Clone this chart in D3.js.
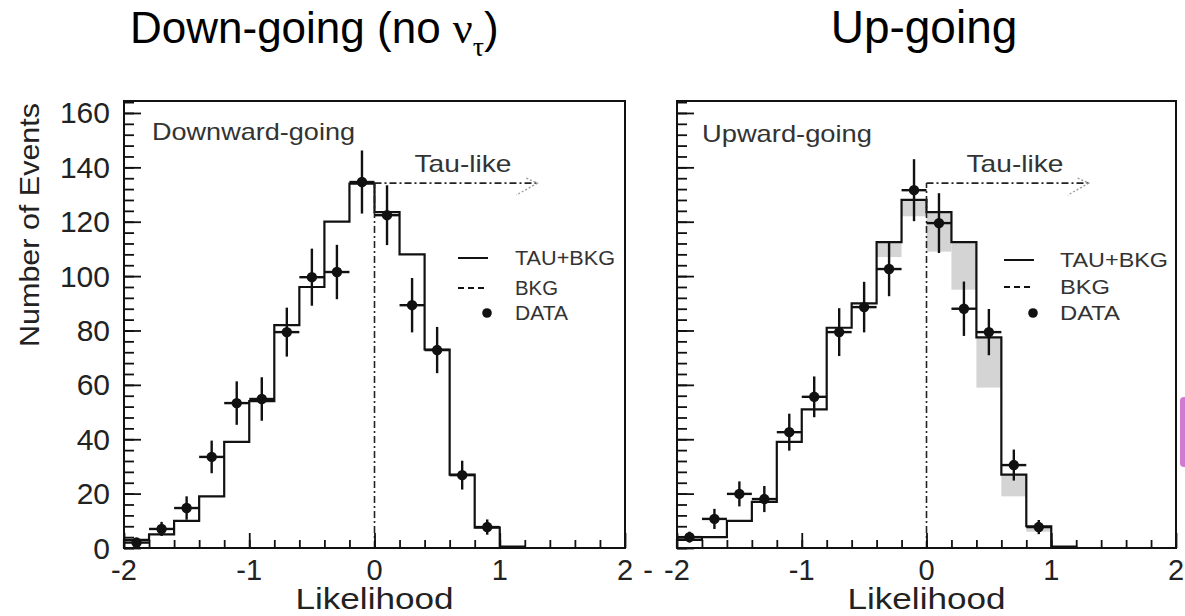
<!DOCTYPE html>
<html><head><meta charset="utf-8">
<script src="https://cdn.jsdelivr.net/npm/d3@7"></script>
<style>body{margin:0;background:#fff}svg{display:block}</style>
</head><body>
<svg id="chart" width="1185" height="616"></svg>
<script>
// Likelihood bins (lower edges), width 0.2
const binLow = [-2.0, -1.8, -1.6, -1.4, -1.2, -1.0, -0.8, -0.6, -0.4, -0.2, 0.0, 0.2, 0.4, 0.6, 0.8, 1.0];
const binWidth = 0.2;
// Data points sit at bin centres
const pointX = [-1.9, -1.7, -1.5, -1.3, -1.1, -0.9, -0.7, -0.5, -0.3, -0.1, 0.1, 0.3, 0.5, 0.7, 0.9];

// Downward-going sample (no tau expected)
const downTotal = [3, 5, 10, 19, 39, 54, 82, 96, 120, 134, 123.5, 108, 73, 27, 7.5, 0.5];
const downBkg   = [3, 5, 10, 19, 39, 54, 82, 96, 120, 134, 123.5, 108, 73, 27, 7.5, 0.5];
const downData  = [2, 7, 14.7, 33.5, 53.3, 54.8, 79.4, 99.6, 101.5, 134.6, 122.4, 89.3, 72.8, 26.8, 7.7];
const downErr   = [1.5, 2.6, 4.3, 6, 8, 8, 9, 10.5, 10, 11.6, 11, 10, 8.5, 5.3, 2.8];

// Upward-going sample
const upTotal = [3, 4, 10, 17, 39, 51, 81, 90, 112.5, 128, 123.5, 112.5, 77.5, 27, 8, 0.5];
const upBkg   = [3, 4, 10, 17, 39, 51, 81, 90, 107, 122, 109, 95, 59, 19, 6, 0.5];
const upData  = [4, 10.7, 19.9, 18, 42.6, 55.6, 79.4, 88.6, 102.6, 131.6, 119.5, 88, 79.4, 30.5, 7.7];
const upErr   = [2, 3.7, 4.6, 4.8, 6.8, 7.5, 8.8, 9.3, 10, 11.4, 11, 10, 8.5, 5.7, 2.6];

const yTicks = [0, 20, 40, 60, 80, 100, 120, 140, 160];
const xTicks = [-2, -1, 0, 1, 2];
const legendLabels = ["TAU+BKG", "BKG", "DATA"];
const tauCut = 0, tauArrowEnd = 1.3, tauArrowLevel = 134.2;

const FONT = "'Liberation Sans', Arial, sans-serif";
const svg = d3.select("#chart");
const TOP = 101, BOTTOM = 548;

const panels = [
  {x0: 124, x1: 625, total: downTotal, bkg: downBkg, data: downData, err: downErr,
   label: "Downward-going", labelX: 152, labelW: 203, labelY: 140,
   yLabels: true, legX: 458, legTextX: 515, legW: [100, 43, 53], legY: [258, 288, 313], legFont: 20},
  {x0: 677, x1: 1176, total: upTotal, bkg: upBkg, data: upData, err: upErr,
   label: "Upward-going", labelX: 702, labelW: 170, labelY: 142,
   yLabels: false, legX: 1004, legTextX: 1060, legW: [108, 50, 60], legY: [260, 287, 313], legFont: 21}
];

const y = d3.scaleLinear().domain([0, 164.4]).range([BOTTOM, TOP]);

panels.forEach((p) => {
  const x = d3.scaleLinear().domain([-2, 2]).range([p.x0, p.x1]);
  const g = svg.append("g");

  // tau contribution: shaded band between background and total
  g.selectAll("rect.tau").data(binLow.map((lo, i) => ({lo, t: p.total[i], b: p.bkg[i]})).filter(d => d.t > d.b))
    .join("rect").attr("class", "tau")
    .attr("x", d => x(d.lo)).attr("width", d => x(d.lo + binWidth) - x(d.lo))
    .attr("y", d => y(d.t)).attr("height", d => y(d.b) - y(d.t))
    .attr("fill", "#d4d4d4");

  // TAU+BKG histogram outline
  const pts = [[x(binLow[0]), y(0)]];
  binLow.forEach((lo, i) => { pts.push([x(lo), y(p.total[i])]); pts.push([x(lo + binWidth), y(p.total[i])]); });
  pts.push([x(binLow[binLow.length - 1] + binWidth), y(0)]);
  g.append("path").attr("d", d3.line()(pts)).attr("fill", "none")
    .attr("stroke", "#111").attr("stroke-width", 2.2);

  // tau-like selection boundary and arrow
  g.append("line").attr("x1", x(tauCut)).attr("x2", x(tauCut))
    .attr("y1", y(0)).attr("y2", y(tauArrowLevel))
    .attr("stroke", "#222").attr("stroke-width", 1.6).attr("stroke-dasharray", "7,3,2,3");
  g.append("line").attr("x1", x(tauCut)).attr("x2", x(tauArrowEnd))
    .attr("y1", y(tauArrowLevel)).attr("y2", y(tauArrowLevel))
    .attr("stroke", "#222").attr("stroke-width", 1.6).attr("stroke-dasharray", "7,3,2,3");
  const tx = x(tauArrowEnd), ty = y(tauArrowLevel);
  g.append("path").attr("d", `M${tx - 11},${ty - 5}L${tx},${ty}L${tx - 21},${ty + 12}`)
    .attr("fill", "none").attr("stroke", "#999").attr("stroke-width", 1.4).attr("stroke-dasharray", "2,2");
  g.append("text").attr("x", x(tauCut) + 40).attr("y", 172)
    .attr("font-family", FONT).attr("font-size", 24).attr("fill", "#333")
    .attr("textLength", 97).attr("lengthAdjust", "spacingAndGlyphs").text("Tau-like");

  // data points with error bars
  const pd = pointX.map((v, i) => ({v, n: p.data[i], e: p.err[i]}));
  const dp = g.append("g").attr("stroke", "#111").attr("stroke-width", 2.4);
  dp.selectAll("line.v").data(pd).join("line").attr("class", "v")
    .attr("x1", d => x(d.v)).attr("x2", d => x(d.v))
    .attr("y1", d => y(d.n - d.e)).attr("y2", d => y(d.n + d.e));
  dp.selectAll("line.h").data(pd).join("line").attr("class", "h")
    .attr("x1", d => x(d.v - binWidth / 2)).attr("x2", d => x(d.v + binWidth / 2))
    .attr("y1", d => y(d.n)).attr("y2", d => y(d.n));
  g.selectAll("circle.pt").data(pd).join("circle").attr("class", "pt")
    .attr("cx", d => x(d.v)).attr("cy", d => y(d.n)).attr("r", 5.2).attr("fill", "#111");

  // axes: ticks drawn inward
  const yAxis = d3.axisRight(y).tickValues(yTicks).tickSize(17).tickFormat("");
  const yMinor = d3.axisRight(y).tickValues(d3.range(0, 165, 4)).tickSize(10).tickFormat("");
  const xAxis = d3.axisTop(x).tickValues(xTicks).tickSize(15).tickFormat("");
  const xMinor = d3.axisTop(x).tickValues(d3.range(-1.8, 2, 0.2)).tickSize(8).tickFormat("");
  [[yAxis, `translate(${p.x0},0)`], [yMinor, `translate(${p.x0},0)`],
   [xAxis, `translate(0,${BOTTOM})`], [xMinor, `translate(0,${BOTTOM})`]].forEach(([ax, tr]) => {
    const a = g.append("g").attr("transform", tr).call(ax);
    a.select(".domain").remove();
    a.selectAll("line").attr("stroke", "#111").attr("stroke-width", 1.8);
  });

  // frame
  g.append("rect").attr("x", p.x0).attr("y", TOP).attr("width", p.x1 - p.x0).attr("height", BOTTOM - TOP)
    .attr("fill", "none").attr("stroke", "#111").attr("stroke-width", 2);

  // x tick labels
  g.selectAll("text.xt").data(xTicks).join("text").attr("class", "xt")
    .attr("x", d => x(d)).attr("y", 580).attr("text-anchor", "middle")
    .attr("font-family", FONT).attr("font-size", 29).attr("fill", "#222")
    .text(d => d);
  if (p.yLabels) {
    g.selectAll("text.yt").data(yTicks).join("text").attr("class", "yt")
      .attr("x", 110).attr("y", d => y(d) + 10.5).attr("text-anchor", "end")
      .attr("font-family", FONT).attr("font-size", 30).attr("fill", "#222")
      .text(d => d);
  }
  g.append("text").attr("x", x(0)).attr("y", 609).attr("text-anchor", "middle")
    .attr("font-family", FONT).attr("font-size", 29).attr("fill", "#222")
    .attr("textLength", 158).attr("lengthAdjust", "spacingAndGlyphs").text("Likelihood");

  // panel label
  g.append("text").attr("x", p.labelX).attr("y", p.labelY)
    .attr("font-family", FONT).attr("font-size", 24).attr("fill", "#333")
    .attr("textLength", p.labelW).attr("lengthAdjust", "spacingAndGlyphs").text(p.label);

  // legend
  const lg = g.append("g");
  lg.append("line").attr("x1", p.legX).attr("x2", p.legX + 30).attr("y1", p.legY[0]).attr("y2", p.legY[0])
    .attr("stroke", "#111").attr("stroke-width", 2);
  lg.append("line").attr("x1", p.legX).attr("x2", p.legX + 30).attr("y1", p.legY[1]).attr("y2", p.legY[1])
    .attr("stroke", "#111").attr("stroke-width", 2).attr("stroke-dasharray", "6,4");
  lg.append("circle").attr("cx", p.legX + 29).attr("cy", p.legY[2]).attr("r", 4.8).attr("fill", "#111");
  legendLabels.forEach((t, i) => {
    lg.append("text").attr("x", p.legTextX).attr("y", p.legY[i] + 7)
      .attr("font-family", FONT).attr("font-size", p.legFont).attr("fill", "#333")
      .attr("textLength", p.legW[i]).attr("lengthAdjust", "spacingAndGlyphs").text(t);
  });
});

// separator between the two x axes
svg.append("text").attr("x", 648).attr("y", 580).attr("text-anchor", "middle")
  .attr("font-family", FONT).attr("font-size", 29).attr("fill", "#222").text("-");

// y-axis title
svg.append("text").attr("transform", "translate(39,225) rotate(-90)").attr("text-anchor", "middle")
  .attr("font-family", FONT).attr("font-size", 28).attr("fill", "#222")
  .attr("textLength", 244).attr("lengthAdjust", "spacingAndGlyphs").text("Number of Events");

// headings
const t1 = svg.append("text").attr("x", 130).attr("y", 43)
  .attr("font-family", FONT).attr("font-size", 44).attr("fill", "#000");
t1.append("tspan").text("Down-going (no ");
t1.append("tspan").attr("font-family", "'Liberation Serif', 'Times New Roman', serif").text("ν");
t1.append("tspan").attr("font-family", "'Liberation Serif', 'Times New Roman', serif")
  .attr("font-size", 28).attr("dy", 13).text("τ");
t1.append("tspan").attr("dy", -13).text(")");
svg.append("text").attr("x", 924).attr("y", 43).attr("text-anchor", "middle")
  .attr("font-family", FONT).attr("font-size", 46).attr("fill", "#000").text("Up-going");

// slide edge accent
svg.append("rect").attr("x", 1180).attr("y", 397).attr("width", 12).attr("height", 70)
  .attr("rx", 4).attr("fill", "#d07ad0");
</script>
</body></html>
